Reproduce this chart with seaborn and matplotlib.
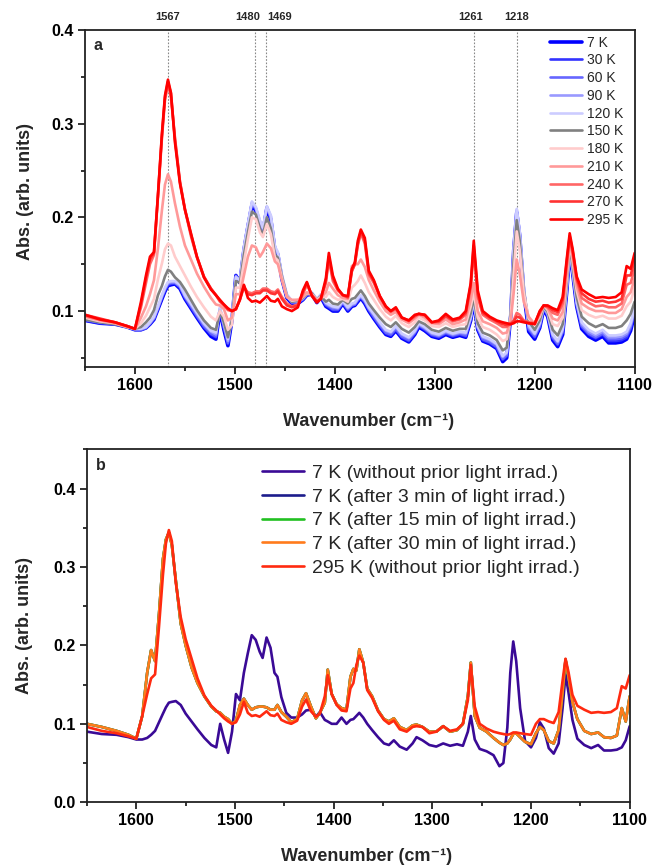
"""Temperature and irradiation dependent IR absorbance spectra (two panels)."""

import matplotlib
matplotlib.use("Agg")
import matplotlib.pyplot as plt
import seaborn as sns
from matplotlib.ticker import MultipleLocator, FormatStrFormatter

# shared wavenumber grid (cm-1)
wavenumber = [
    1650, 1635, 1620, 1608, 1600, 1594, 1589, 1585, 1581, 1577,
    1573, 1570, 1567, 1564, 1560, 1555, 1550, 1544, 1538, 1531,
    1524, 1519, 1515, 1511, 1507, 1503, 1499, 1495, 1491, 1487,
    1483, 1479, 1475, 1472, 1468, 1464, 1460, 1457, 1453, 1448,
    1443, 1437, 1432, 1428, 1423, 1418, 1414, 1409, 1406, 1402,
    1397, 1392, 1387, 1383, 1380, 1377, 1374, 1370, 1366, 1361,
    1355, 1349, 1344, 1339, 1333, 1326, 1320, 1316, 1310, 1303,
    1296, 1289, 1282, 1275, 1269, 1264, 1261, 1257, 1252, 1245,
    1238, 1232, 1228, 1224, 1221, 1218, 1215, 1211, 1206, 1200,
    1195, 1191, 1187, 1182, 1177, 1172, 1168, 1165, 1162, 1158,
    1153, 1146, 1139, 1132, 1126, 1119, 1113, 1108, 1104, 1100,
]

abs_7k = [
    .090, .087, .086, .083, .080, .080, .082, .086, .091, .102,
    .113, .121, .127, .128, .129, .124, .113, .103, .093, .082,
    .073, .070, .100, .080, .063, .090, .138, .130, .165, .190,
    .213, .207, .192, .184, .210, .197, .165, .160, .134, .114,
    .108, .108, .112, .117, .118, .109, .115, .105, .103, .100,
    .100, .108, .100, .105, .106, .110, .114, .108, .100, .092,
    .083, .075, .073, .079, .071, .067, .075, .083, .079, .073,
    .071, .075, .072, .074, .072, .090, .110, .080, .068, .065,
    .060, .046, .050, .095, .165, .205, .180, .120, .078, .070,
    .082, .102, .094, .069, .062, .075, .120, .163, .140, .105,
    .081, .073, .069, .073, .066, .066, .067, .070, .079, .097,
]
abs_30k = [
    .090, .087, .086, .083, .080, .080, .082, .086, .092, .103,
    .114, .122, .128, .129, .130, .125, .114, .104, .094, .083,
    .075, .072, .101, .082, .065, .091, .138, .131, .166, .191,
    .214, .208, .193, .185, .210, .198, .166, .161, .135, .115,
    .109, .109, .112, .117, .118, .110, .116, .106, .104, .101,
    .101, .109, .101, .106, .107, .111, .115, .109, .101, .093,
    .084, .076, .074, .080, .072, .068, .076, .084, .080, .074,
    .072, .076, .073, .075, .073, .091, .110, .081, .069, .066,
    .061, .048, .052, .096, .166, .206, .181, .122, .080, .072,
    .083, .103, .095, .071, .064, .077, .121, .164, .141, .106,
    .083, .075, .071, .075, .068, .068, .069, .072, .081, .099,
]
abs_60k = [
    .091, .088, .086, .083, .080, .080, .082, .087, .092, .103,
    .115, .123, .129, .130, .130, .126, .115, .105, .095, .084,
    .076, .073, .102, .083, .066, .092, .137, .131, .166, .191,
    .215, .209, .194, .186, .211, .199, .167, .161, .136, .116,
    .109, .109, .113, .118, .119, .111, .116, .107, .105, .102,
    .102, .109, .102, .106, .107, .112, .115, .110, .102, .094,
    .085, .077, .075, .081, .073, .069, .077, .085, .081, .075,
    .073, .077, .074, .076, .074, .092, .111, .082, .070, .067,
    .062, .049, .053, .097, .166, .207, .182, .123, .081, .073,
    .084, .103, .096, .072, .065, .078, .122, .164, .142, .107,
    .084, .076, .072, .076, .070, .070, .071, .074, .083, .100,
]
abs_90k = [
    .091, .088, .087, .084, .081, .081, .083, .087, .093, .104,
    .116, .124, .130, .131, .131, .127, .116, .107, .097, .086,
    .078, .075, .103, .085, .068, .094, .137, .132, .167, .192,
    .216, .210, .196, .188, .211, .201, .168, .162, .138, .117,
    .110, .110, .113, .118, .119, .112, .117, .108, .106, .104,
    .103, .110, .103, .107, .108, .113, .116, .111, .103, .096,
    .087, .079, .077, .083, .075, .071, .078, .086, .082, .076,
    .074, .078, .075, .077, .076, .093, .111, .083, .072, .069,
    .064, .051, .055, .099, .167, .208, .184, .125, .083, .075,
    .086, .104, .097, .074, .067, .080, .124, .165, .143, .109,
    .086, .078, .074, .078, .072, .072, .073, .076, .085, .102,
]
abs_120k = [
    .092, .089, .087, .084, .081, .081, .083, .088, .094, .105,
    .117, .125, .131, .132, .132, .128, .117, .108, .098, .087,
    .079, .077, .104, .087, .070, .095, .136, .133, .168, .193,
    .217, .211, .197, .189, .212, .202, .169, .163, .139, .118,
    .111, .111, .114, .119, .120, .113, .118, .109, .107, .105,
    .104, .111, .104, .108, .109, .114, .117, .112, .104, .097,
    .088, .080, .078, .084, .076, .072, .079, .087, .083, .077,
    .075, .079, .076, .078, .077, .094, .112, .084, .073, .070,
    .065, .052, .056, .100, .168, .209, .185, .126, .085, .076,
    .087, .105, .098, .075, .068, .081, .125, .166, .144, .110,
    .088, .080, .076, .080, .074, .074, .075, .078, .087, .103,
]
abs_150k = [
    .091, .088, .086, .083, .081, .083, .088, .093, .101, .117,
    .127, .137, .144, .142, .136, .131, .123, .112, .101, .090,
    .082, .080, .100, .088, .072, .090, .132, .130, .160, .184,
    .206, .203, .188, .181, .200, .188, .160, .157, .137, .116,
    .110, .111, .114, .118, .119, .112, .116, .110, .112, .108,
    .107, .112, .108, .113, .114, .118, .122, .116, .108, .101,
    .093, .086, .083, .088, .081, .077, .083, .089, .086, .080,
    .078, .082, .079, .081, .081, .098, .115, .087, .077, .074,
    .069, .058, .061, .098, .155, .197, .175, .122, .089, .080,
    .090, .105, .099, .080, .074, .086, .130, .168, .148, .115,
    .094, .087, .083, .086, .082, .082, .084, .090, .097, .110,
]
abs_180k = [
    .093, .089, .087, .083, .081, .087, .095, .104, .113, .134,
    .151, .166, .172, .170, .158, .148, .138, .126, .115, .104,
    .094, .090, .100, .094, .080, .085, .125, .125, .152, .177,
    .200, .198, .184, .179, .193, .182, .157, .154, .135, .115,
    .111, .112, .115, .119, .118, .112, .115, .115, .120, .115,
    .112, .113, .110, .125, .128, .132, .138, .130, .120, .112,
    .102, .094, .090, .095, .087, .083, .088, .093, .090, .084,
    .083, .087, .083, .085, .086, .105, .120, .093, .083, .080,
    .075, .068, .070, .094, .140, .185, .165, .120, .092, .085,
    .094, .106, .101, .086, .084, .093, .135, .172, .153, .122,
    .101, .096, .093, .095, .092, .092, .095, .105, .110, .125,
]
abs_210k = [
    .094, .090, .087, .083, .081, .093, .105, .118, .133, .167,
    .208, .235, .246, .238, .215, .190, .170, .155, .140, .126,
    .114, .107, .106, .102, .090, .093, .118, .118, .138, .158,
    .170, .168, .158, .163, .172, .167, .153, .150, .133, .115,
    .112, .112, .115, .120, .117, .111, .114, .120, .130, .124,
    .117, .114, .113, .148, .150, .150, .155, .147, .133, .122,
    .110, .100, .096, .099, .091, .087, .092, .096, .093, .087,
    .086, .091, .086, .088, .091, .112, .130, .100, .089, .086,
    .082, .076, .077, .090, .120, .155, .140, .110, .094, .086,
    .096, .106, .103, .092, .090, .099, .140, .175, .157, .127,
    .108, .103, .100, .100, .098, .098, .102, .115, .120, .135,
]
abs_240k = [
    .095, .091, .088, .084, .081, .104, .130, .150, .160, .222,
    .285, .325, .342, .328, .285, .238, .208, .180, .157, .136,
    .124, .117, .110, .106, .101, .100, .102, .112, .125, .120,
    .119, .121, .121, .124, .124, .121, .120, .123, .115, .108,
    .105, .107, .118, .128, .117, .110, .113, .130, .155, .132,
    .122, .117, .114, .142, .150, .170, .183, .172, .139, .130,
    .115, .104, .099, .102, .093, .089, .094, .097, .095, .088,
    .088, .094, .089, .091, .096, .125, .165, .115, .096, .091,
    .087, .083, .083, .087, .090, .098, .096, .090, .088, .087,
    .098, .106, .104, .098, .096, .108, .148, .178, .162, .133,
    .114, .109, .105, .106, .104, .104, .108, .128, .130, .145,
]
abs_270k = [
    .096, .092, .088, .084, .081, .107, .135, .155, .162, .224,
    .288, .328, .345, .332, .283, .238, .209, .182, .158, .137,
    .124, .117, .111, .107, .102, .100, .102, .113, .127, .118,
    .117, .119, .119, .122, .122, .119, .118, .121, .113, .106,
    .104, .106, .120, .130, .117, .110, .113, .132, .158, .135,
    .123, .117, .115, .143, .150, .172, .185, .175, .141, .132,
    .116, .105, .100, .103, .093, .090, .095, .097, .096, .088,
    .089, .095, .090, .092, .098, .128, .170, .118, .098, .093,
    .089, .086, .085, .086, .089, .094, .093, .089, .087, .087,
    .099, .106, .105, .101, .099, .112, .152, .180, .164, .135,
    .119, .113, .110, .111, .109, .110, .113, .138, .138, .155,
]
abs_295k = [
    .096, .091, .088, .084, .081, .110, .138, .158, .163, .224,
    .290, .330, .347, .333, .280, .236, .208, .183, .158, .136,
    .123, .117, .112, .107, .103, .100, .102, .112, .128, .114,
    .110, .111, .109, .112, .116, .111, .110, .113, .105, .102,
    .100, .104, .122, .131, .116, .109, .113, .135, .162, .138,
    .124, .117, .116, .145, .152, .175, .187, .178, .143, .133,
    .116, .105, .100, .104, .093, .090, .096, .097, .096, .088,
    .090, .097, .091, .093, .100, .130, .175, .122, .100, .094,
    .090, .088, .087, .086, .087, .089, .089, .088, .087, .086,
    .100, .106, .106, .103, .101, .115, .155, .183, .166, .137,
    .123, .118, .114, .115, .114, .115, .120, .148, .145, .162,
]
# 7 K after light irradiation (3, 15 and 30 min overlap in the picture)
abs_7k_irrad = [
    .100, .096, .091, .086, .081, .110, .165, .194, .180, .240,
    .310, .335, .344, .328, .283, .228, .200, .172, .152, .135,
    .122, .116, .114, .109, .106, .100, .104, .124, .132, .124,
    .118, .121, .122, .122, .121, .118, .118, .124, .115, .109,
    .102, .106, .130, .139, .122, .107, .114, .127, .169, .138,
    .125, .120, .118, .160, .170, .168, .195, .178, .145, .135,
    .117, .106, .103, .107, .096, .092, .098, .099, .096, .090,
    .090, .097, .090, .092, .100, .135, .178, .110, .095, .090,
    .082, .076, .073, .075, .080, .087, .088, .083, .077, .074,
    .088, .096, .092, .078, .075, .092, .140, .182, .160, .128,
    .106, .091, .087, .089, .083, .082, .085, .120, .103, .135,
]

temps_a = ["7 K", "30 K", "60 K", "90 K", "120 K", "150 K",
           "180 K", "210 K", "240 K", "270 K", "295 K"]
spectra_a = [abs_7k, abs_30k, abs_60k, abs_90k, abs_120k, abs_150k,
             abs_180k, abs_210k, abs_240k, abs_270k, abs_295k]
colors_a = ["#0000ff", "#3333ff", "#6666ff", "#9999ff", "#ccccff", "#808080",
            "#ffcccc", "#ff9999", "#ff6666", "#ff3333", "#ff0000"]

labels_b = ["7 K (without prior light irrad.)",
            "7 K (after 3 min of light irrad.)",
            "7 K (after 15 min of light irrad.)",
            "7 K (after 30 min of light irrad.)",
            "295 K (without prior light irrad.)"]
spectra_b = [abs_7k, abs_7k_irrad, abs_7k_irrad, abs_7k_irrad, abs_295k]
colors_b = ["#3a0a96", "#1c1c8c", "#22c022", "#ff7b1c", "#ff2a10"]

marked_bands = [1567, 1480, 1469, 1261, 1218]
# horizontal nudge (points) of the band labels so that 1480/1469 do not collide
band_label_shift = [0, -5.5, 10, -2, 0]

sns.set_style("ticks")
plt.rcParams['font.family'] = ['Liberation Sans', 'DejaVu Sans']
plt.rcParams['font.weight'] = 'bold'
plt.rcParams['axes.labelweight'] = 'bold'
plt.rcParams['axes.linewidth'] = 1.3

fig = plt.figure(figsize=(6.54, 8.66), dpi=100)
ax_a = fig.add_axes([0.1300, 0.5759, 0.8404, 0.3895])
ax_b = fig.add_axes([0.1330, 0.0736, 0.8298, 0.4076])


def style_axis(ax, ylim):
    ax.set_xlim(1650, 1100)
    ax.set_ylim(*ylim)
    ax.xaxis.set_major_locator(MultipleLocator(100))
    ax.xaxis.set_minor_locator(MultipleLocator(50))
    ax.yaxis.set_major_locator(MultipleLocator(0.1))
    ax.yaxis.set_minor_locator(MultipleLocator(0.05))
    ax.yaxis.set_major_formatter(FormatStrFormatter('%.1f'))
    ax.tick_params(which='major', direction='out', length=5, width=1.3,
                   labelsize=11.5, pad=3, colors='#222222', labelcolor='black')
    ax.tick_params(which='minor', direction='out', length=2.8, width=1.3,
                   colors='#222222')
    for side in ['top', 'right', 'left', 'bottom']:
        ax.spines[side].set_visible(True)
        ax.spines[side].set_color('#222222')
    ax.set_xlabel('Wavenumber (cm⁻¹)', fontsize=13)
    ax.set_ylabel('Abs. (arb. units)', fontsize=13)


# panel a: temperature series
for lab, vals, col in zip(temps_a, spectra_a, colors_a):
    lw = 2.6 if lab == "7 K" else 1.9
    sns.lineplot(x=wavenumber, y=vals, ax=ax_a, color=col, linewidth=lw,
                 label=lab, estimator=None, sort=False)

for band, shift in zip(marked_bands, band_label_shift):
    ax_a.axvline(band, color='#888888', linewidth=0.8, linestyle=(0, (1.5, 1.5)),
                 zorder=0)
    ax_a.annotate(str(band), xy=(band, 1.0), xycoords=('data', 'axes fraction'),
                  xytext=(shift, 9), textcoords='offset points',
                  ha='center', va='center', fontsize=8, fontweight='bold')

style_axis(ax_a, (0.04, 0.40))
ax_a.xaxis.set_label_coords(0.516, -0.136)
ax_a.yaxis.set_label_coords(-0.093, 0.52)
ax_a.text(0.0146, 0.953, 'a', transform=ax_a.transAxes, fontsize=11.5,
          fontweight='bold', ha='left', va='center')
ax_a.legend(loc='upper left', bbox_to_anchor=(0.8364, 1.0), frameon=False,
            prop={'weight': 'normal', 'size': 10},
            handlelength=2.3, handletextpad=0.36, labelspacing=0.27,
            borderaxespad=0.0, borderpad=0.4)

# panel b: light irradiation series
for lab, vals, col in zip(labels_b, spectra_b, colors_b):
    sns.lineplot(x=wavenumber, y=vals, ax=ax_b, color=col, linewidth=1.9,
                 label=lab, estimator=None, sort=False)

style_axis(ax_b, (0.0, 0.45))
ax_b.xaxis.set_label_coords(0.516, -0.130)
ax_b.yaxis.set_label_coords(-0.099, 0.5)
ax_b.text(0.0166, 0.953, 'b', transform=ax_b.transAxes, fontsize=11.5,
          fontweight='bold', ha='left', va='center')
ax_b.legend(loc='upper left', bbox_to_anchor=(0.3087, 0.98), frameon=False,
            prop={'weight': 'normal', 'size': 14},
            handlelength=2.17, handletextpad=0.41, labelspacing=0.32,
            borderaxespad=0.0, borderpad=0.4)

fig.savefig('out.png', dpi=100)
plt.close(fig)
